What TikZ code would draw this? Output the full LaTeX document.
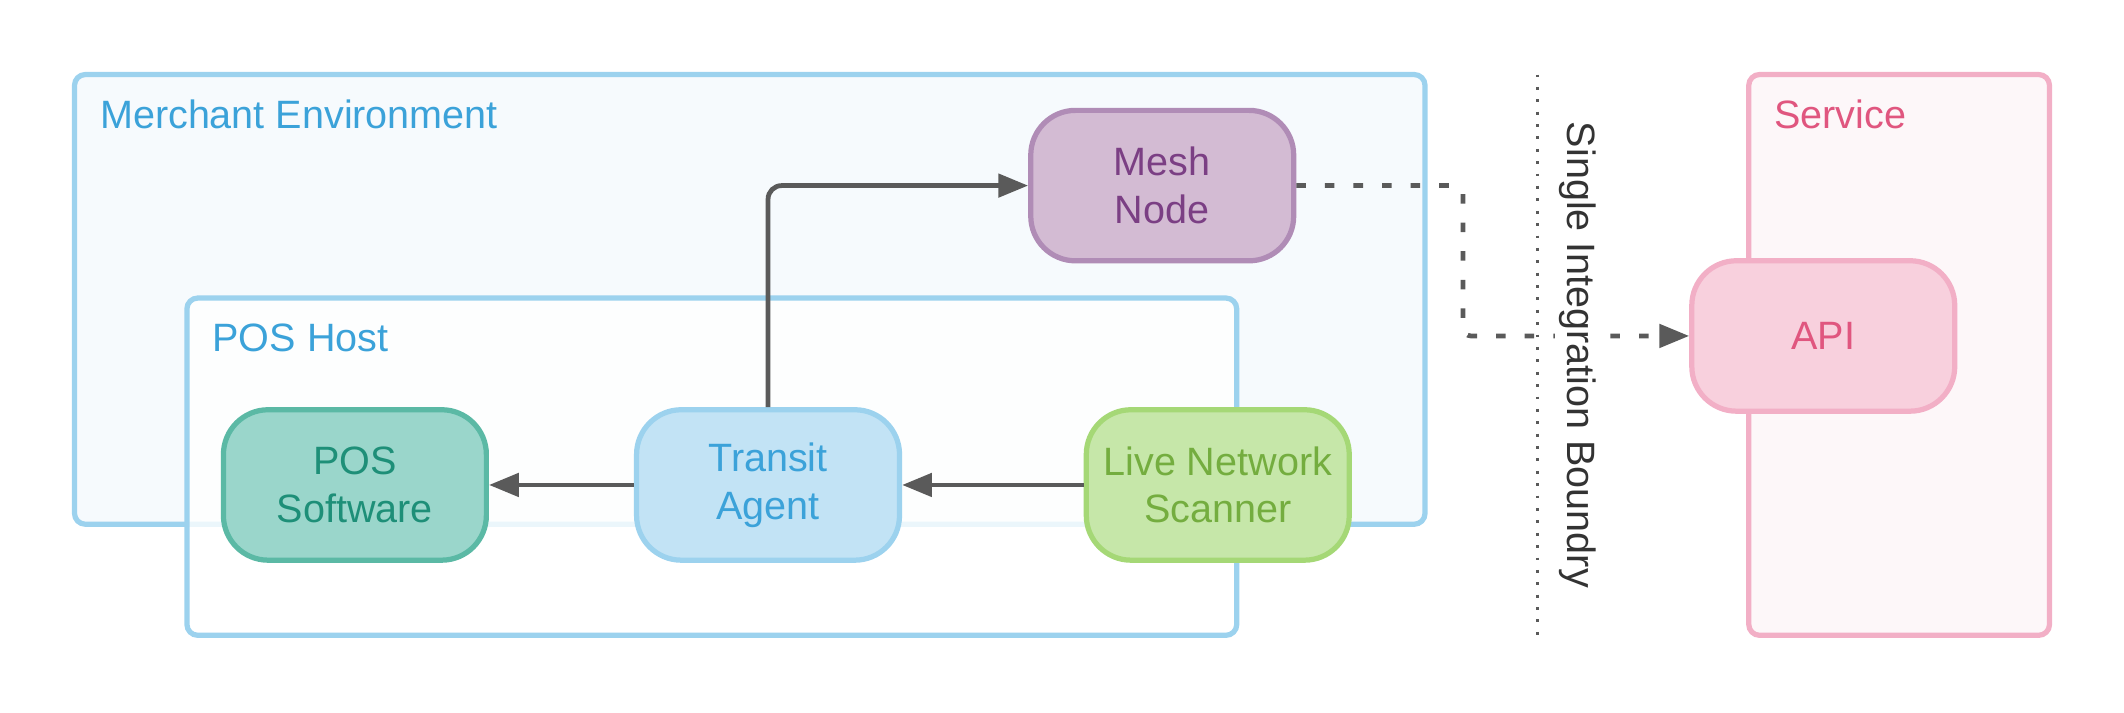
\documentclass[tikz,border=0pt]{standalone}
\usepackage{fontspec}
\setmainfont{Liberation Sans}
\usetikzlibrary{arrows.meta}
\definecolor{envline}{HTML}{9CD2EE}
\definecolor{envfill}{HTML}{F6FAFD}
\definecolor{envtext}{HTML}{3BA2D9}
\definecolor{posfill}{HTML}{9AD6CB}
\definecolor{posline}{HTML}{5BB9A5}
\definecolor{postext}{HTML}{1E8F78}
\definecolor{agfill}{HTML}{C2E3F5}
\definecolor{scfill}{HTML}{C6E7A9}
\definecolor{scline}{HTML}{A5D876}
\definecolor{sctext}{HTML}{74AD3F}
\definecolor{mnfill}{HTML}{D3BBD3}
\definecolor{mnline}{HTML}{B08CB6}
\definecolor{mntext}{HTML}{7B3F84}
\definecolor{apifill}{HTML}{F8D0DD}
\definecolor{apiline}{HTML}{F2AFC6}
\definecolor{apitext}{HTML}{E0567F}
\definecolor{svfill}{HTML}{FDF7F9}
\definecolor{wire}{HTML}{5A5A5A}

\begin{document}
\begin{tikzpicture}[x=0.01cm, y=-0.01cm, line width=1.1pt,
  every node/.style={font=\fontsize{8.3}{10}\selectfont},
  box/.style={rounded corners=0.08cm},
  blob/.style={draw, rounded corners=0.33cm, minimum width=1.94cm, minimum height=1.11cm, align=center, inner sep=0pt},
  title/.style={anchor=north west, inner sep=0pt}]
\useasboundingbox (0,0) rectangle (1568,526);

\draw[box, draw=envline, fill=envfill] (55,55) rectangle (1052,387);
\node[title, text=envtext] (envt) at (72,72) {Merchant Environment};
\draw[box, draw=envline, fill=white, fill opacity=0.8] (138,220) rectangle (913,469);
\node[title, text=envtext] (hostt) at (155,237) {POS Host};
\draw[box, draw=apiline, fill=svfill] (1291,55) rectangle (1513,469);
\node[title, text=apitext] (svt) at (1308,72) {Service};

\node(mesh)[blob, fill=mnfill, draw=mnline, text=mntext] at (858,137) {Mesh\\Node};
\node(api)[blob, fill=apifill, draw=apiline, text=apitext] at (1346,248) {API};
\node(pos)[blob, fill=posfill, draw=posline, text=postext] at (262,358) {POS\\Software};
\node(agent)[blob, fill=agfill, draw=envline, text=envtext] at (567,358) {Transit\\Agent};
\node(scan)[blob, fill=scfill, draw=scline, text=sctext] at (899,358) {Live Network\\Scanner};

\coordinate (btop) at (1135,55);
\coordinate (bbot) at (1135,469);
\draw[wire, line width=0.6pt, dotted] (btop) -- (bbot);

\begin{scope}[wire, line width=1pt, -{Triangle[length=0.22cm, width=0.17cm]}]
\draw[rounded corners=0.1cm] (agent.north) |- (mesh.west);
\draw (scan.west) -- (agent.east);
\draw (agent.west) -- (pos.east);
\draw[dash pattern=on 2pt off 4pt, rounded corners=0.06cm] (mesh.east) -- (1080,137) |- (api.west);
\end{scope}
\node(blabel)[rotate=-90, fill=white, inner sep=1pt, text=black!80] at (1165,262) {Single Integration Boundry};
\end{tikzpicture}
\end{document}
